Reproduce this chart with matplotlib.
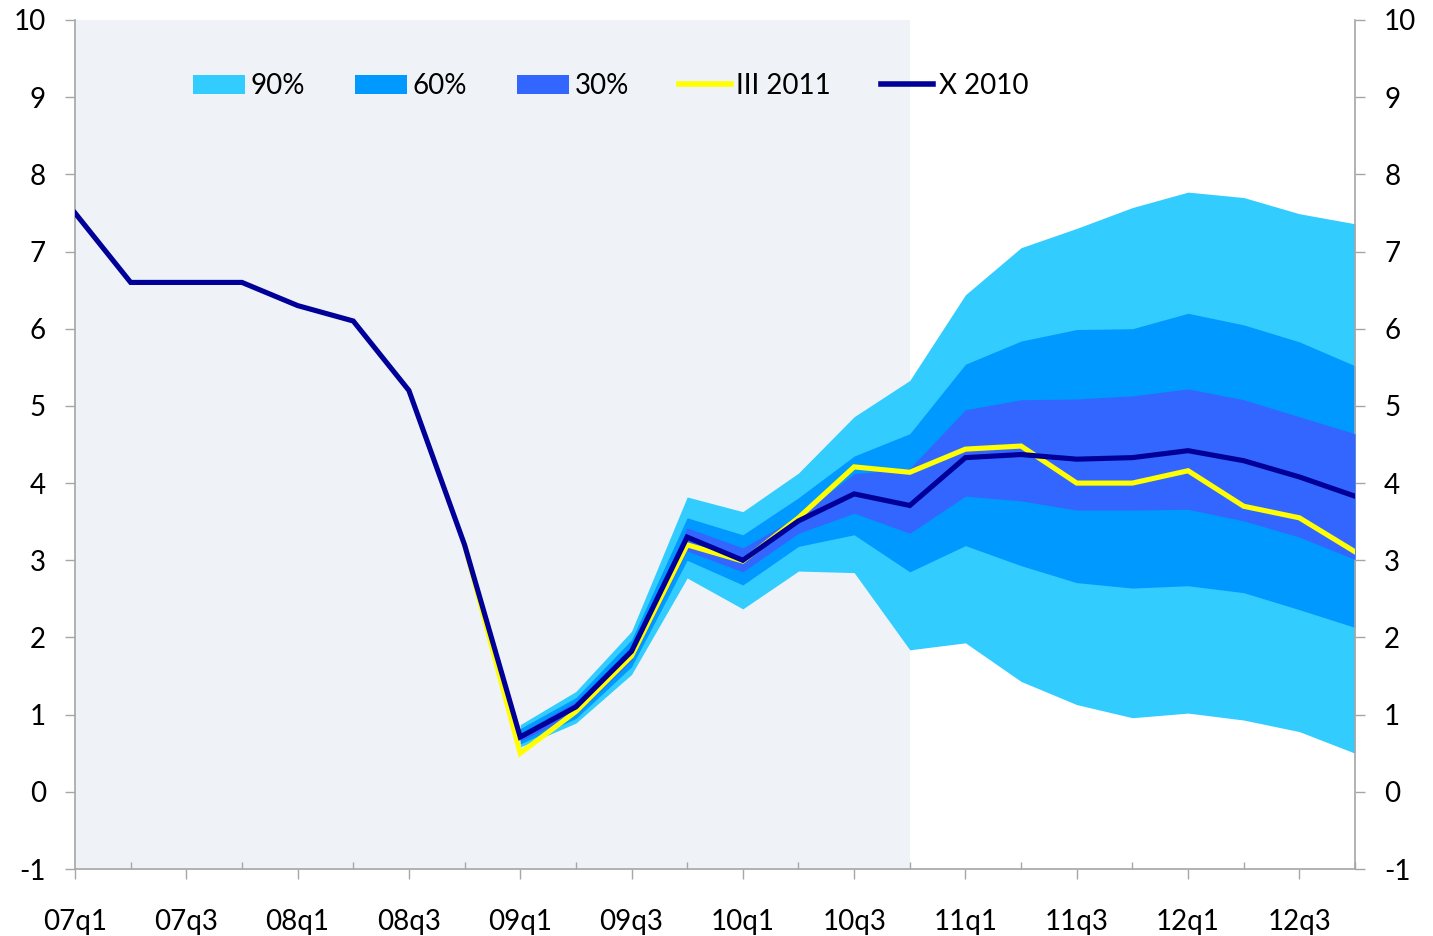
import numpy as np
import matplotlib
matplotlib.use("Agg")
import matplotlib.pyplot as plt
from matplotlib.patches import Patch
from matplotlib.lines import Line2D

plt.rcParams['font.family'] = ['Lato', 'DejaVu Sans']
plt.rcParams['axes.unicode_minus'] = False

nan = np.nan
quarters = ['07q1', '07q2', '07q3', '07q4', '08q1', '08q2', '08q3', '08q4',
            '09q1', '09q2', '09q3', '09q4', '10q1', '10q2', '10q3', '10q4',
            '11q1', '11q2', '11q3', '11q4', '12q1', '12q2', '12q3', '12q4']

x_2010 = [7.5, 6.6, 6.6, 6.6, 6.3, 6.1, 5.2, 3.2, 0.71, 1.1, 1.82, 3.3, 3.0,
          3.51, 3.86, 3.71, 4.33, 4.37, 4.31, 4.33, 4.42, 4.29, 4.08, 3.83]
iii_2011 = [nan] * 7 + [3.2, 0.5, 1.04, 1.76, 3.2, 2.99, 3.55, 4.21, 4.14,
                        4.44, 4.48, 4.0, 4.0, 4.16, 3.7, 3.55, 3.11]

lo90 = [nan] * 8 + [0.58, 0.89, 1.52, 2.77, 2.37, 2.86, 2.84, 1.84, 1.93, 1.43, 1.13, 0.96, 1.02, 0.93, 0.78, 0.50]
hi90 = [nan] * 8 + [0.87, 1.30, 2.08, 3.82, 3.63, 4.13, 4.86, 5.33, 6.44, 7.05, 7.30, 7.57, 7.77, 7.70, 7.49, 7.36]
lo60 = [nan] * 8 + [0.62, 0.95, 1.62, 3.00, 2.68, 3.18, 3.33, 2.85, 3.19, 2.93, 2.71, 2.64, 2.67, 2.58, 2.36, 2.13]
hi60 = [nan] * 8 + [0.82, 1.22, 1.97, 3.55, 3.33, 3.81, 4.35, 4.64, 5.54, 5.84, 5.99, 6.00, 6.20, 6.05, 5.83, 5.52]
lo30 = [nan] * 8 + [0.66, 1.00, 1.70, 3.12, 2.85, 3.35, 3.61, 3.35, 3.83, 3.77, 3.65, 3.65, 3.66, 3.51, 3.30, 3.01]
hi30 = [nan] * 8 + [0.76, 1.17, 1.88, 3.42, 3.16, 3.57, 4.12, 4.19, 4.95, 5.08, 5.09, 5.13, 5.22, 5.08, 4.86, 4.64]

history_end = '10q4'

C90, C60, C30 = '#33CCFF', '#0099FF', '#3366FF'
CYEL, CNAVY = '#FFFF00', '#000099'
GRID = '#A6A6A6'
FS = 20

fig = plt.figure(figsize=(14.33, 9.36), dpi=100)
ax = fig.add_axes([75 / 1433, 1 - 869 / 936, 1280 / 1433, 849 / 936])

x = np.arange(len(quarters))
ax.axvspan(0, quarters.index(history_end), color='#EFF3F8', lw=0, zorder=0)

ax.fill_between(x, lo90, hi90, color=C90, lw=0, zorder=1)
ax.fill_between(x, lo60, hi60, color=C60, lw=0, zorder=2)
ax.fill_between(x, lo30, hi30, color=C30, lw=0, zorder=3)
ax.plot(x, iii_2011, color=CYEL, lw=3.7, zorder=4, solid_joinstyle='miter')
ax.plot(x, x_2010, color=CNAVY, lw=3.7, zorder=5, solid_joinstyle='miter')

ax.set_xlim(0, len(quarters) - 1)
ax.set_ylim(-1, 10)

ax.spines['top'].set_visible(False)
for s in ['left', 'right', 'bottom']:
    ax.spines[s].set_color(GRID)
    ax.spines[s].set_linewidth(1.2)

ax.set_xticks(x[::2])
ax.set_xticklabels(quarters[::2], fontsize=FS)
ax.set_xticks(x[1::2], minor=True)
ax.tick_params(axis='x', which='major', direction='out', length=7, width=1, color=GRID, pad=21.5)
ax.tick_params(axis='x', which='minor', direction='in', length=5, width=1, color=GRID)

yt = np.arange(-1, 11)
ax.set_yticks(yt)
ax.set_yticklabels([str(v) for v in yt], fontsize=FS)
ax.tick_params(axis='y', which='major', direction='out', length=7, width=1, color=GRID,
               pad=14, left=True, right=True, labelleft=True, labelright=True)

handles = [Patch(facecolor=C90, edgecolor='none'),
           Patch(facecolor=C60, edgecolor='none'),
           Patch(facecolor=C30, edgecolor='none'),
           Line2D([0], [0], color=CYEL, lw=4),
           Line2D([0], [0], color=CNAVY, lw=4)]
labels = ['90%', '60%', '30%', 'III 2011', 'X 2010']
ax.legend(handles, labels, ncol=5, frameon=False, fontsize=FS,
          loc='center left', bbox_to_anchor=((193 - 75) / 1280, (869 - 86) / 849),
          borderpad=0, borderaxespad=0, handlelength=1.87, handleheight=0.65,
          handletextpad=0.2, columnspacing=1.8)

fig.savefig('out.png', dpi=100)
